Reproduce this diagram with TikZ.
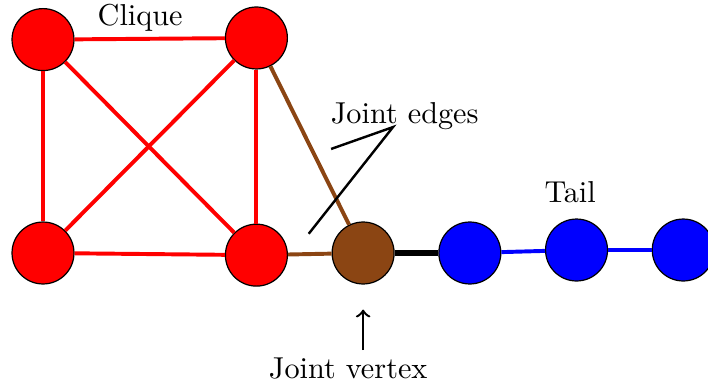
\documentclass[tikz,border=0pt]{standalone}
\definecolor{jointbrown}{RGB}{139,69,19}

\begin{document}
\begin{tikzpicture}[x=1.24cm, y=1.24cm]
\tikzset{sommet/.style={draw, circle, minimum size=0.72cm, inner sep=0pt}}
\tikzset{arete/.style={line width=1.3pt}}
\useasboundingbox (-0.403, -1.237) rectangle (6.232, 2.371);
\node[sommet, fill=red] (C1) at (0, 2) {};
\node[sommet, fill=red] (C2) at (2, 2.015) {};
\node[sommet, fill=red] (C3) at (0, 0) {};
\node[sommet, fill=red] (C4) at (2, -0.02) {};
\node[sommet, fill=jointbrown] (J) at (3, 0) {};
\node[sommet, fill=blue] (T1) at (4, 0) {};
\node[sommet, fill=blue] (T2) at (5, 0.028) {};
\node[sommet, fill=blue] (T3) at (6, 0.028) {};
\draw[arete, red] (C1) -- (C2);
\draw[arete, red] (C1) -- (C3);
\draw[arete, red] (C1) -- (C4);
\draw[arete, red] (C2) -- (C3);
\draw[arete, red] (C2) -- (C4);
\draw[arete, red] (C3) -- (C4);
\draw[arete, jointbrown] (C2) -- (J);
\draw[arete, jointbrown] (C4) -- (J);
\draw[line width=1.8pt] (J) -- (T1);
\draw[arete, blue] (T1) -- (T2);
\draw[arete, blue] (T2) -- (T3);
\node (clique) at (0.91, 2.2) {Clique};
\node (tail) at (4.94, 0.57) {Tail};
\node (jelabel) at (3.39, 1.28) {Joint edges};
\coordinate (jetip) at (3.28, 1.18);
\coordinate (je1) at (2.70, 0.975);
\coordinate (je2) at (2.49, 0.18);
\draw[line width=0.8pt] (je1) -- (jetip) -- (je2);
\node (jvlabel) at (2.86, -1.08) {Joint vertex};
\coordinate (jvfoot) at (3, -0.91);
\coordinate (jvtip) at (3, -0.53);
\draw[->, line width=0.8pt] (jvfoot) -- (jvtip);
\end{tikzpicture}
\end{document}
